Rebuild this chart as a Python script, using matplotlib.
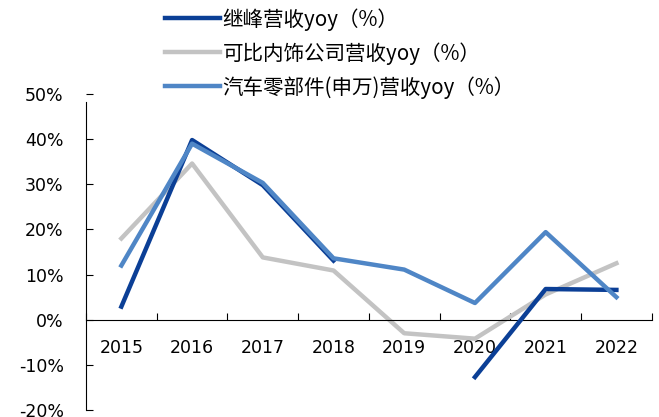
import numpy as np
import matplotlib
matplotlib.use("Agg")
import matplotlib.pyplot as plt

plt.rcParams['font.family'] = ['Noto Sans CJK SC', 'DejaVu Sans']

years = ['2015', '2016', '2017', '2018', '2019', '2020', '2021', '2022']
jifeng = [2.9, 39.8, 29.8, 13.1, np.nan, -12.7, 6.8, 6.6]
peers = [18.0, 34.6, 13.8, 10.9, -3.0, -4.2, 5.6, 12.5]
auto_parts = [12.0, 39.0, 30.3, 13.6, 11.1, 3.7, 19.4, 5.0]

labels = ['继峰营收yoy（%）', '可比内饰公司营收yoy（%）', '汽车零部件(申万)营收yoy（%）']
colors = ['#0B3F96', '#C3C3C3', '#4F86C6']

fig = plt.figure(figsize=(6.59, 4.17), dpi=100)
ax = fig.add_axes([0.1305, 0.0168, 0.8585, 0.7578])

x = np.arange(len(years))
ax.plot(x, jifeng, color=colors[0], lw=3.2, label=labels[0], zorder=3)
ax.plot(x, peers, color=colors[1], lw=3.2, label=labels[1], zorder=2)
ax.plot(x, auto_parts, color=colors[2], lw=3.2, label=labels[2], zorder=4)

ax.set_xlim(-0.5, len(years) - 0.5)
ax.set_ylim(-20, 50)
ax.set_yticks(range(-20, 51, 10))
ax.set_yticklabels([f'{v}%' for v in range(-20, 51, 10)], fontsize=12.5,
                   family='DejaVu Sans')
ax.tick_params(axis='y', direction='in', length=5, pad=16, width=0.8)

for s in ['top', 'right']:
    ax.spines[s].set_visible(False)
ax.spines['left'].set_bounds(-20, 48.3)
ax.spines['bottom'].set_position(('data', 0))
ax.spines['left'].set_linewidth(0.8)
ax.spines['bottom'].set_linewidth(0.8)

ax.set_xticks(np.arange(-0.5, len(years), 1.0))
ax.set_xticklabels([])
ax.tick_params(axis='x', which='major', direction='in', length=5, width=0.8)
ax.set_xticks(x, minor=True)
ax.set_xticklabels(years, minor=True, fontsize=12.5, family='DejaVu Sans')
ax.tick_params(axis='x', which='minor', length=0, pad=14)

fig.legend(loc='upper left', bbox_to_anchor=(0.222, 1.025), frameon=False,
           fontsize=14.8, handlelength=2.7, labelspacing=0.55, handletextpad=0.1)

fig.savefig('out.png', dpi=100)
